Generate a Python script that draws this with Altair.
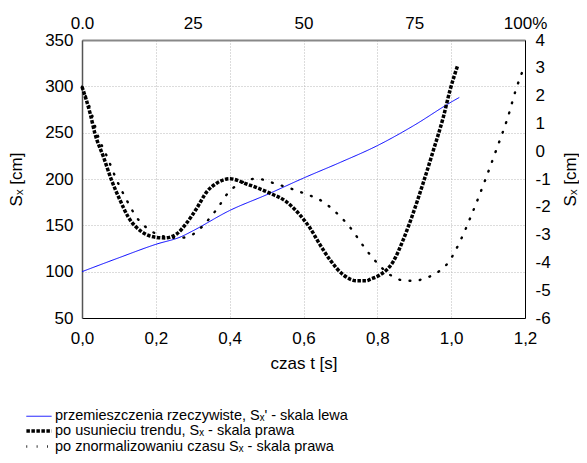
import altair as alt
import pandas as pd

# --- data ---
t_real = [0.0, 0.1, 0.2, 0.27, 0.3, 0.4, 0.5, 0.6, 0.7, 0.8, 0.9, 1.0, 1.022]
s_real = [100, 115, 129.5, 138, 144, 166, 183, 201, 218, 236, 258, 283, 288]

t_detr = [0.0, 0.022, 0.035, 0.058, 0.080, 0.103, 0.125, 0.162, 0.202, 0.225,
          0.256, 0.283, 0.311, 0.338, 0.365, 0.392, 0.401, 0.446, 0.509, 0.554,
          0.590, 0.618, 0.645, 0.672, 0.708, 0.744, 0.771, 0.780, 0.807, 0.843,
          0.870, 0.897, 0.924, 0.952, 0.979, 0.997, 1.018]
s_detr = [2.32, 1.36, 0.64, -0.20, -1.04, -1.76, -2.36, -2.90, -3.10, -3.12,
          -2.98, -2.59, -2.05, -1.46, -1.15, -1.00, -0.99, -1.18, -1.51, -1.82,
          -2.29, -2.77, -3.37, -3.91, -4.45, -4.66, -4.66, -4.61, -4.45, -3.97,
          -3.19, -2.23, -1.15, 0.04, 1.24, 2.20, 3.10]

t_norm = [0.0, 0.026, 0.041, 0.068, 0.094, 0.121, 0.147, 0.191, 0.238, 0.265,
          0.302, 0.334, 0.367, 0.398, 0.430, 0.462, 0.473, 0.526, 0.600, 0.653,
          0.695, 0.728, 0.760, 0.792, 0.835, 0.877, 0.909, 0.919, 0.951, 0.994,
          1.026, 1.057, 1.089, 1.122, 1.154, 1.175, 1.200]
s_norm = [2.32, 1.36, 0.64, -0.20, -1.04, -1.76, -2.36, -2.90, -3.10, -3.12,
          -2.98, -2.59, -2.05, -1.46, -1.15, -1.00, -0.99, -1.18, -1.51, -1.82,
          -2.29, -2.77, -3.37, -3.91, -4.45, -4.66, -4.66, -4.61, -4.45, -3.97,
          -3.19, -2.23, -1.15, 0.04, 1.24, 2.20, 3.10]

names = [
    "przemieszczenia rzeczywiste, Sₓ' - skala lewa",
    "po usunieciu trendu, Sₓ - skala prawa",
    "po znormalizowaniu czasu Sₓ - skala prawa",
]
x_ticks = [0.0, 0.2, 0.4, 0.6, 0.8, 1.0, 1.2]
top_ticks = [0.0, 0.3, 0.6, 0.9, 1.2]
left_ticks = [50, 100, 150, 200, 250, 300, 350]
right_ticks = [-6, -5, -4, -3, -2, -1, 0, 1, 2, 3, 4]

df_real = pd.DataFrame({"t": t_real, "s": s_real, "series": names[0], "i": range(len(t_real))})
df_detr = pd.DataFrame({"t": t_detr, "s": s_detr, "series": names[1], "i": range(len(t_detr))})
df_norm = pd.DataFrame({"t": t_norm, "s": s_norm, "series": names[2], "i": range(len(t_norm))})

FONT = "Liberation Sans"

leg = alt.Legend(
    title=None, orient="none", legendX=-51, legendY=369, direction="vertical",
    symbolType="M-2.1,0H2.1", symbolSize=144, labelFontSize=14.5, labelOffset=8,
    labelLimit=600, rowPadding=0, labelColor="black", labelFont=FONT,
)
color = alt.Color("series:N", scale=alt.Scale(domain=names, range=["#0000ff", "#000000", "#000000"]), legend=leg)
dash = alt.StrokeDash("series:N", scale=alt.Scale(domain=names, range=[[1, 0], [3.5, 1.5], [0.8, 9.5]]), legend=leg)
width = alt.StrokeWidth("series:N", scale=alt.Scale(type="ordinal", domain=names, range=[1, 3.5, 2.4]), legend=leg)

xscale = alt.Scale(domain=[0, 1.2], nice=False, zero=False)
rscale = alt.Scale(domain=[-6, 4], nice=False, zero=False)

base_axis = dict(labelFontSize=17, titleFontSize=17, labelFont=FONT, titleFont=FONT,
                 labelColor="black", titleColor="black", ticks=False, titleFontWeight="normal")

blue = alt.Chart(df_real).mark_line(interpolate="monotone").encode(
    x=alt.X("t:Q", scale=xscale, axis=alt.Axis(
        orient="bottom", values=x_ticks, title="czas t [s]", grid=True, gridColor="#b8b8b8",
        gridDash=[1, 2], labelFlush=False, labelPadding=12, titlePadding=9,
        labelExpr="replace(format(datum.value, '.1f'), '.', ',')", domainColor="black",
        **base_axis)),
    y=alt.Y("s:Q", scale=alt.Scale(domain=[50, 350], nice=False, zero=False), axis=alt.Axis(
        orient="left", values=left_ticks, title="Sₓ [cm]", grid=True, gridColor="#b8b8b8",
        gridDash=[1, 2], labelPadding=9, titlePadding=19, domainColor="#555555",
        domainWidth=1.5, **base_axis)),
    color=color, strokeDash=dash, strokeWidth=width, order="i:Q",
)

detr = alt.Chart(df_detr).mark_line(interpolate="monotone", strokeCap="butt").encode(
    x=alt.X("t:Q", scale=xscale, axis=alt.Axis(
        orient="top", values=top_ticks, title=None, grid=False, labelFlush=False,
        labelPadding=8, domainColor="#888888", domainWidth=2,
        labelExpr="datum.value == 0 ? '0.0' : (datum.value > 1.19 ? '100%' : format(datum.value / 1.2 * 100, 'd'))",
        **base_axis)),
    y=alt.Y("s:Q", scale=rscale, axis=alt.Axis(
        orient="right", values=right_ticks, title="Sₓ [cm]", grid=False, labelPadding=10,
        titleAngle=270, titleX=45, titleY=139, titleAlign="center", titleBaseline="middle",
        domainColor="black", labelExpr="'' + datum.value", **base_axis)),
    color=color, strokeDash=dash, strokeWidth=width, order="i:Q",
)

norm = alt.Chart(df_norm).mark_line(interpolate="monotone", strokeCap="round").encode(
    x=alt.X("t:Q", scale=xscale, axis=None),
    y=alt.Y("s:Q", scale=rscale, axis=None),
    color=color, strokeDash=dash, strokeWidth=width, order="i:Q",
)

chart = alt.layer(blue, detr, norm).resolve_scale(y="independent").resolve_axis(
    x="independent", y="independent"
).properties(
    width=443, height=278,
    autosize=alt.AutoSizeParams(type="none"),
    padding={"left": 74, "top": 32, "right": 54, "bottom": 137},
).configure_view(stroke=None).configure(font=FONT)

chart.save("out.html", embed_options={"renderer": "svg", "actions": False})
